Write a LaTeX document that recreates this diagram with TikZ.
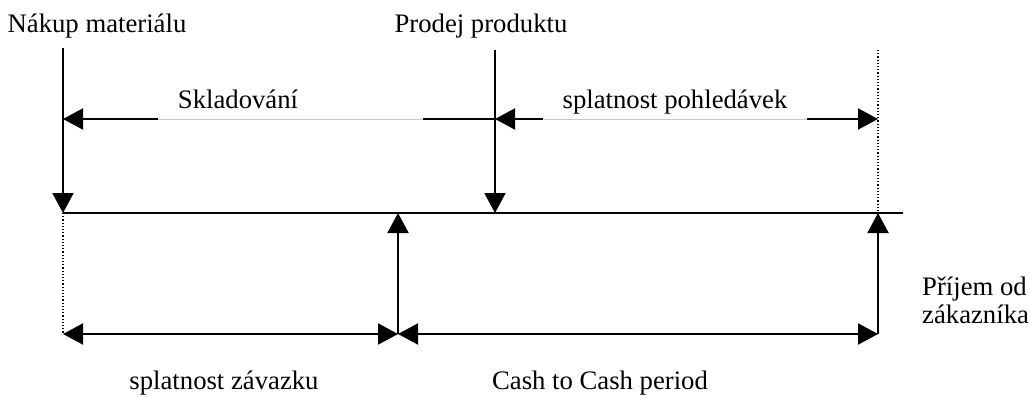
\documentclass[tikz,border=0pt]{standalone}
\usepackage{fontspec}
\setmainfont{Liberation Serif}
\usetikzlibrary{arrows.meta}
\begin{document}
\begin{tikzpicture}[x=1pt,y=-1pt,
  line/.style={line width=2pt},
  arr/.style={line width=2pt,-{Triangle[length=20pt,width=21pt]}},
  dbl/.style={line width=2pt,{Triangle[length=20pt,width=21pt]}-{Triangle[length=20pt,width=21pt]}},
  guide/.style={line width=1.2pt,dotted},
  faint/.style={line width=1pt,draw={rgb,255:red,200;green,200;blue,200}},
  lbl/.style={font=\fontsize{26.7}{28}\selectfont,inner sep=0pt,anchor=base}]
\useasboundingbox (0,0) rectangle (1030,396);
% coordinates
\coordinate (Atop) at (63,48);
\coordinate (A0) at (63,213);
\coordinate (A1) at (63,334);
\coordinate (AS) at (63,119);
\coordinate (Ptop) at (495,50);
\coordinate (P0) at (495,213);
\coordinate (PS) at (495,119);
\coordinate (Rtop) at (878,50);
\coordinate (R0) at (878,213);
\coordinate (R1) at (878,334);
\coordinate (RS) at (878,119);
\coordinate (Z0) at (398,213);
\coordinate (Z1) at (398,334);
\coordinate (E) at (903,213);
\coordinate (S1) at (158,119);
\coordinate (S2) at (423,119);
\coordinate (S3) at (543,119);
\coordinate (S4) at (807,119);
% labels
\node[lbl] (nakup) at (97,33) {Nákup materiálu};
\node[lbl] (prodej) at (481,33) {Prodej produktu};
\node[lbl] (sklad) at (238,108) {Skladování};
\node[lbl] (pohl) at (675,108) {splatnost pohledávek};
\node[lbl] (zav) at (224,389) {splatnost závazku};
\node[lbl] (c2c) at (600,389) {Cash to Cash period};
\node[lbl,anchor=base west,align=left] (prijem) at (922,323) {Příjem od\\zákazníka};
% main axis
\draw[line] (A0) -- (E);
% verticals
\draw[arr] (Atop) -- (A0);
\draw[arr] (Ptop) -- (P0);
\draw[guide] (Rtop) -- (R0);
\draw[guide] (A0) -- (A1);
\draw[arr] (Z1) -- (Z0);
\draw[arr] (R1) -- (R0);
% skladovani / pohledavky
\draw[faint] (S1) -- (S2);
\draw[faint] (S3) -- (S4);
\draw[arr] (S1) -- (AS);
\draw[line] (S2) -- (PS);
\draw[arr] (S3) -- (PS);
\draw[arr] (S4) -- (RS);
% bottom periods
\draw[dbl] (A1) -- (Z1);
\draw[dbl] (Z1) -- (R1);
\end{tikzpicture}
\end{document}
